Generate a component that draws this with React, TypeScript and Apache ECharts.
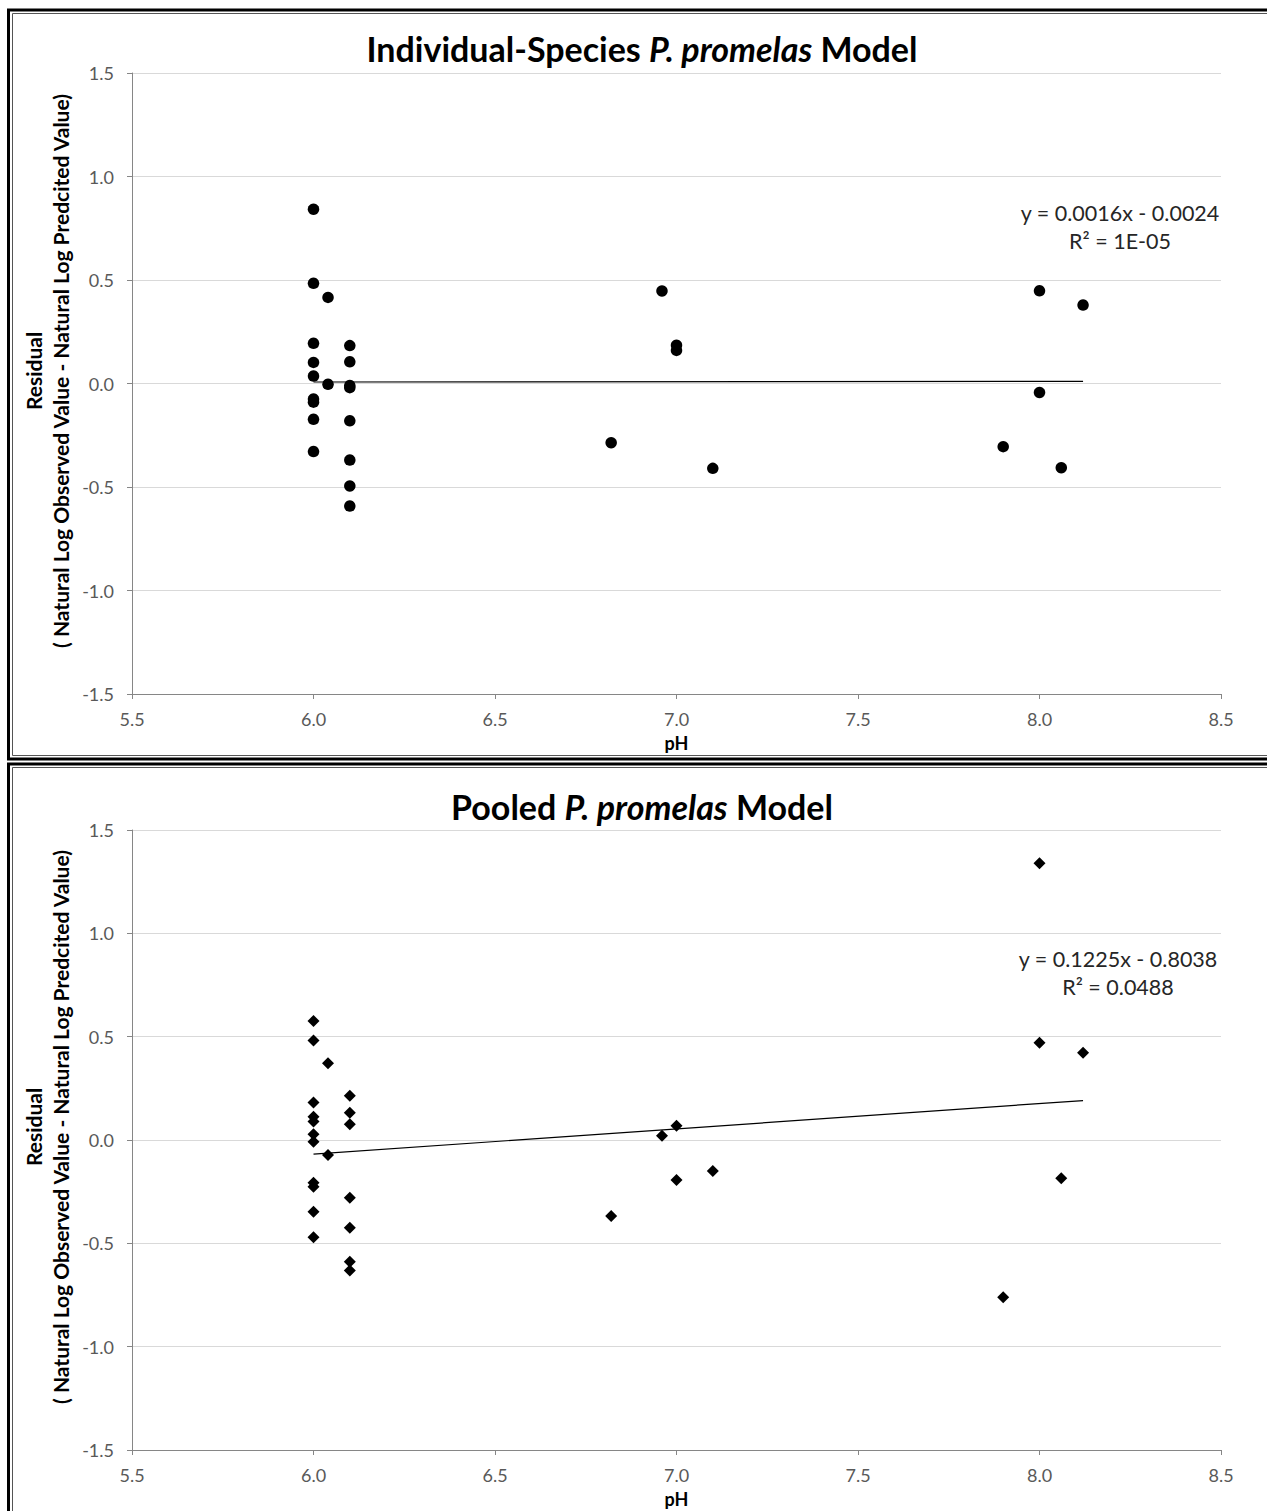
import React, { useEffect, useRef } from "react";
import * as echarts from "echarts";

// ---------- data ----------
const indivPH = [
  6.0, 6.0, 6.0, 6.0, 6.0, 6.0, 6.0, 6.0, 6.0,
  6.04, 6.04,
  6.1, 6.1, 6.1, 6.1, 6.1, 6.1, 6.1, 6.1,
  6.82, 6.96, 7.0, 7.0, 7.1, 7.9, 8.0, 8.0, 8.06, 8.12,
];
const indivResidual = [
  0.842, 0.484, 0.194, 0.102, 0.036, -0.075, -0.09, -0.173, -0.329,
  0.416, -0.004,
  0.183, 0.105, -0.01, -0.02, -0.18, -0.37, -0.495, -0.592,
  -0.286, 0.447, 0.185, 0.16, -0.41, -0.305, 0.448, -0.043, -0.407, 0.379,
];
const indivSlope = 0.0016;
const indivIntercept = -0.0024;
const indivEquation = ["y = 0.0016x - 0.0024", "R² = 1E-05"];

const pooledPH = [
  6.0, 6.0, 6.0, 6.0, 6.0, 6.0, 6.0, 6.0, 6.0, 6.0, 6.0,
  6.04, 6.04,
  6.1, 6.1, 6.1, 6.1, 6.1, 6.1, 6.1,
  6.82, 6.96, 7.0, 7.0, 7.1, 7.9, 8.0, 8.0, 8.06, 8.12,
];
const pooledResidual = [
  0.576, 0.481, 0.181, 0.113, 0.089, 0.028, -0.008, -0.207, -0.226, -0.347, -0.471,
  0.371, -0.073,
  0.214, 0.132, 0.076, -0.279, -0.424, -0.589, -0.632,
  -0.368, 0.021, 0.069, -0.194, -0.15, -0.761, 1.339, 0.471, -0.185, 0.422,
];
const pooledSlope = 0.1225;
const pooledIntercept = -0.8038;
const pooledEquation = ["y = 0.1225x - 0.8038", "R² = 0.0488"];

const xTicks = { min: 5.5, max: 8.5, step: 0.5 };
const yTicks = { min: -1.5, max: 1.5, step: 0.5 };

const titleParts = [
  ["Individual-Species ", "P. promelas", " Model"],
  ["Pooled ", "P. promelas", " Model"],
];
const yNameLines = [
  "Residual",
  "( Natural Log Observed Value - Natural Log Predcited Value)",
];
const xName = "pH";

// ---------- helpers ----------
const FONT = "Lato, 'Open Sans', sans-serif";

function pairs(xs: number[], ys: number[]) {
  return xs.map((x, i) => [x, ys[i]]);
}
function trend(xs: number[], m: number, b: number) {
  const lo = Math.min(...xs);
  const hi = Math.max(...xs);
  return [
    [lo, m * lo + b],
    [hi, m * hi + b],
  ];
}

export default function App() {
  const ref = useRef<HTMLDivElement>(null);

  useEffect(() => {
    document.body.style.margin = "0";
    document.body.style.overflow = "hidden";
    if (!ref.current) return;
    const chart = echarts.init(ref.current, null, { renderer: "svg" });

    const grids = [
      { left: 132, top: 73, width: 1089, height: 621 },
      { left: 132, top: 830, width: 1089, height: 620 },
    ];

    const mkX = (gi: number) => ({
      type: "value",
      gridIndex: gi,
      min: xTicks.min,
      max: xTicks.max,
      interval: xTicks.step,
      axisLine: { show: true, onZero: false, lineStyle: { color: "#868686", width: 1 } },
      axisTick: { show: true, length: 5, lineStyle: { color: "#868686" } },
      axisLabel: {
        formatter: (v: number) => v.toFixed(1),
        color: "#595959",
        fontSize: 18,
        fontFamily: FONT,
        margin: 16,
      },
      splitLine: { show: false },
      name: xName,
      nameLocation: "middle",
      nameGap: 40,
      nameTextStyle: { fontSize: 18, fontWeight: "bold", color: "#000", fontFamily: FONT },
    });
    const mkY = (gi: number) => ({
      type: "value",
      gridIndex: gi,
      min: yTicks.min,
      max: yTicks.max,
      interval: yTicks.step,
      axisLine: { show: true, onZero: false, lineStyle: { color: "#868686", width: 1 } },
      axisTick: { show: true, length: 5, lineStyle: { color: "#868686" } },
      axisLabel: {
        formatter: (v: number) => v.toFixed(1),
        color: "#595959",
        fontSize: 18,
        fontFamily: FONT,
        margin: 18,
      },
      splitLine: { show: true, lineStyle: { color: "#d9d9d9", width: 1 } },
    });

    const panelTops = [10, 764];
    const panelBottoms = [759, 1530];
    const titleY = [48, 806];
    const yNameCenter = [371, 1127];
    const eqPos = [
      [1120, 213],
      [1118, 959],
    ];
    const equations = [indivEquation, pooledEquation];

    const graphic: any[] = [];
    for (let p = 0; p < 2; p++) {
      graphic.push({
        type: "rect",
        shape: { x: 8.5, y: panelTops[p], width: 1300, height: panelBottoms[p] - panelTops[p] },
        style: { fill: "none", stroke: "#000", lineWidth: 3 },
        silent: true,
      });
      graphic.push({
        type: "rect",
        shape: { x: 12.5, y: panelTops[p] + 3.5, width: 1300, height: panelBottoms[p] - panelTops[p] - 7 },
        style: { fill: "none", stroke: "#555", lineWidth: 1 },
        silent: true,
      });
      const [a, b, c] = titleParts[p];
      graphic.push({
        type: "text",
        x: 642,
        y: titleY[p],
        style: {
          text: `{b|${a}}{i|${b}}{b|${c}}`,
          align: "center",
          verticalAlign: "middle",
          rich: {
            b: { fontSize: 34, fontWeight: "bold", fontFamily: FONT, fill: "#000" },
            i: { fontSize: 34, fontWeight: "bold", fontStyle: "italic", fontFamily: FONT, fill: "#000" },
          },
        },
      });
      graphic.push({
        type: "text",
        x: 33,
        y: yNameCenter[p],
        rotation: Math.PI / 2,
        style: {
          text: yNameLines[0],
          align: "center",
          verticalAlign: "middle",
          fontSize: 21,
          fontWeight: "bold",
          fontFamily: FONT,
          fill: "#000",
        },
      });
      graphic.push({
        type: "text",
        x: 60,
        y: yNameCenter[p],
        rotation: Math.PI / 2,
        style: {
          text: yNameLines[1],
          align: "center",
          verticalAlign: "middle",
          fontSize: 21,
          fontWeight: "bold",
          fontFamily: FONT,
          fill: "#000",
        },
      });
      for (let l = 0; l < 2; l++) {
        graphic.push({
          type: "text",
          x: eqPos[p][0],
          y: eqPos[p][1] + l * 28,
          style: {
            text: equations[p][l],
            align: "center",
            verticalAlign: "middle",
            fontSize: 21.5,
            fontFamily: FONT,
            fill: "#262626",
          },
        });
      }
    }

    chart.setOption({
      animation: false,
      backgroundColor: "#fff",
      grid: grids,
      xAxis: [mkX(0), mkX(1)],
      yAxis: [mkY(0), mkY(1)],
      series: [
        {
          type: "scatter",
          xAxisIndex: 0,
          yAxisIndex: 0,
          symbol: "circle",
          symbolSize: 11.5,
          itemStyle: { color: "#000", opacity: 1 },
          data: pairs(indivPH, indivResidual),
          z: 3,
        },
        {
          type: "line",
          xAxisIndex: 0,
          yAxisIndex: 0,
          symbol: "none",
          lineStyle: { color: "#000", width: 1.2 },
          data: trend(indivPH, indivSlope, indivIntercept),
          z: 2,
        },
        {
          type: "scatter",
          xAxisIndex: 1,
          yAxisIndex: 1,
          symbol: "diamond",
          symbolSize: [12, 12],
          itemStyle: { color: "#000", opacity: 1 },
          data: pairs(pooledPH, pooledResidual),
          z: 3,
        },
        {
          type: "line",
          xAxisIndex: 1,
          yAxisIndex: 1,
          symbol: "none",
          lineStyle: { color: "#000", width: 1.2 },
          data: trend(pooledPH, pooledSlope, pooledIntercept),
          z: 2,
        },
      ],
      graphic,
    });

    return () => chart.dispose();
  }, []);

  return (
    <div
      ref={ref}
      style={{ position: "absolute", left: 0, top: 0, width: 1267, height: 1511 }}
    />
  );
}
